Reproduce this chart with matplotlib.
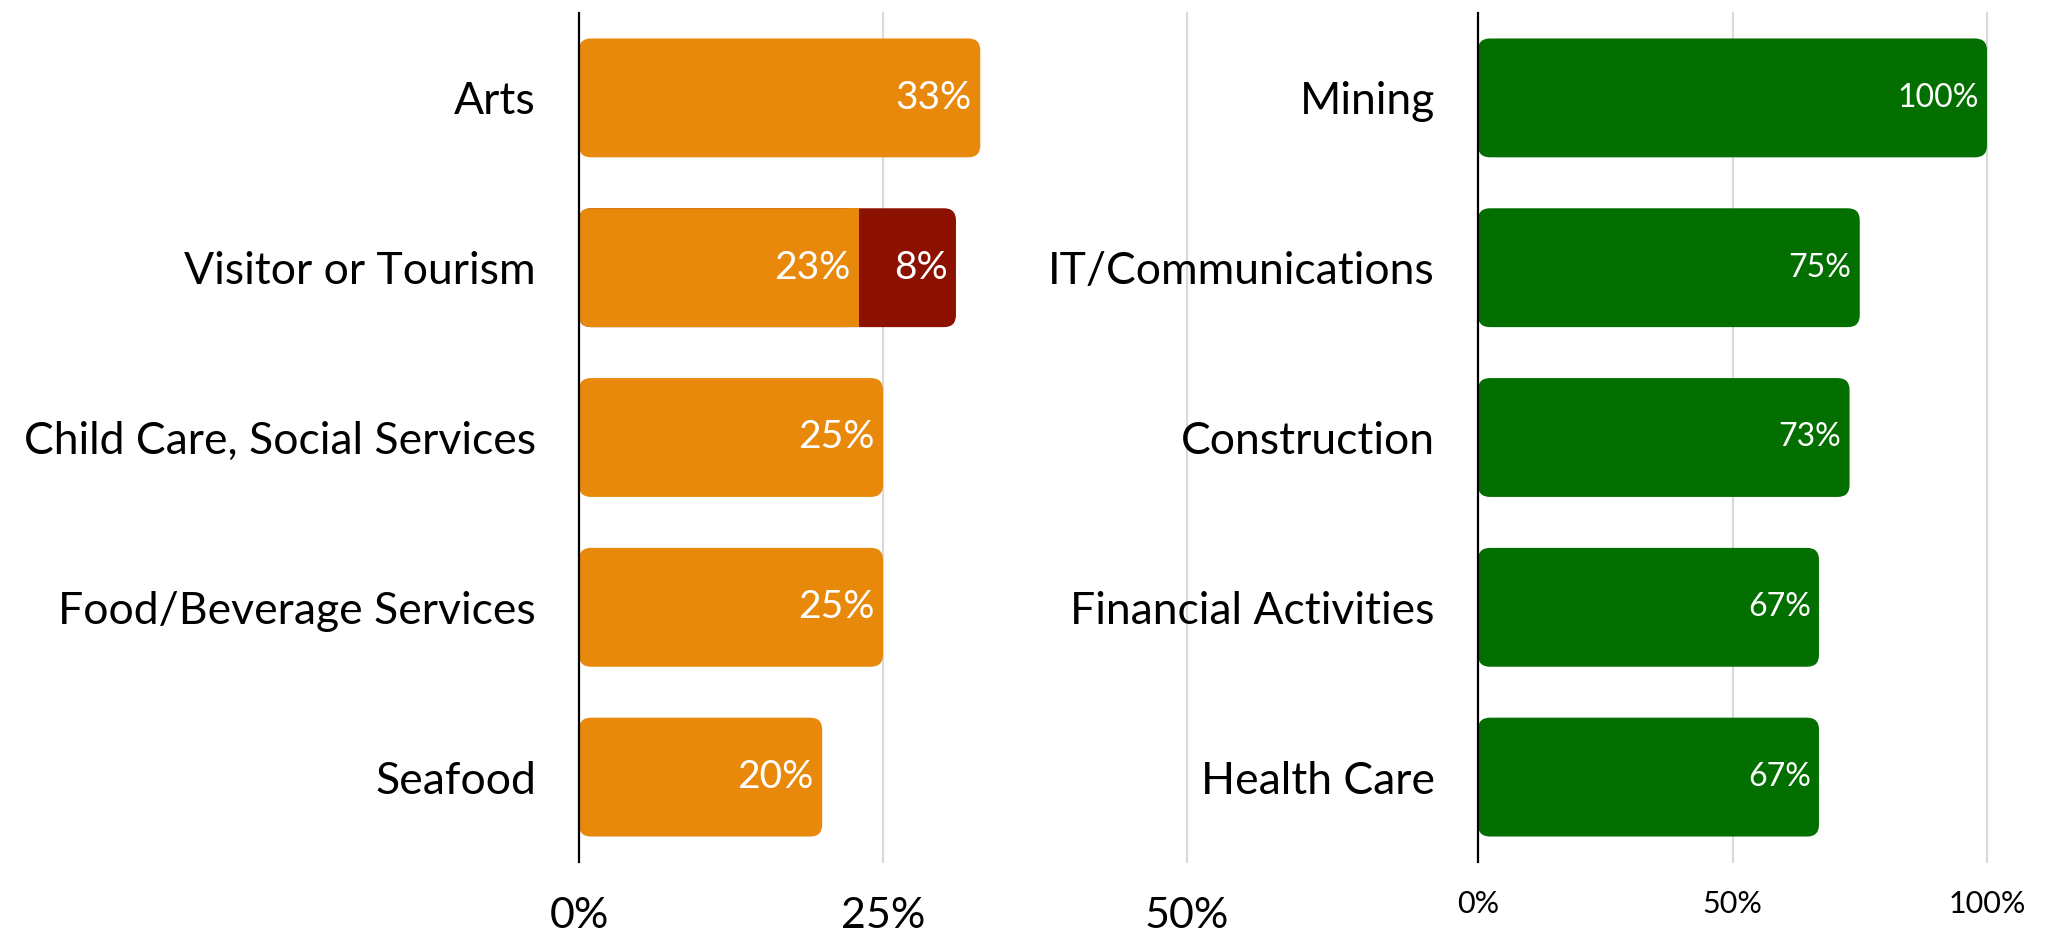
import matplotlib.pyplot as plt
from matplotlib.patches import FancyBboxPatch, Rectangle

plt.rcParams['font.family'] = ['Lato', 'DejaVu Sans']

# data
left_cats = ["Arts", "Visitor or Tourism", "Child Care, Social Services",
             "Food/Beverage Services", "Seafood"]
left_main = [33, 23, 25, 25, 20]
left_extra = [0, 8, 0, 0, 0]
left_ticks = [0, 25, 50]

right_cats = ["Mining", "IT/Communications", "Construction",
              "Financial Activities", "Health Care"]
right_vals = [100, 75, 73, 67, 67]
right_ticks = [0, 50, 100]

ORANGE = '#E8890B'
RED = '#8C1100'
GREEN = '#036F00'
GRID = '#D9D9D9'

W, H, DPI = 2049, 936, 100
fig = plt.figure(figsize=(W / DPI, H / DPI), dpi=DPI)

bot, top = 862, 13
axL = fig.add_axes([579 / W, 1 - bot / H, (1187 - 579) / W, (bot - top) / H])
axR = fig.add_axes([1478 / W, 1 - bot / H, (1987 - 1478) / W, (bot - top) / H])

BAR_H = 0.7
RADIUS_PX = 12


def setup(ax, cats, xmax, ticks, tick_fs, tick_pad):
    ax.set_xlim(0, xmax)
    ax.set_ylim(len(cats) - 0.5, -0.5)
    for s in ax.spines.values():
        s.set_visible(False)
    for t in ticks[1:]:
        ax.axvline(t, color=GRID, lw=1.5, zorder=0, clip_on=False)
    ax.axvline(0, color='black', lw=1.6, zorder=3, clip_on=False)
    ax.set_yticks(range(len(cats)))
    ax.set_yticklabels(cats, fontsize=32)
    ax.set_xticks(ticks)
    ax.set_xticklabels([f"{t}%" for t in ticks], fontsize=tick_fs)
    ax.tick_params(axis='y', length=0, pad=31)
    ax.tick_params(axis='x', length=0, pad=tick_pad)
    # pixel scale for round corners
    bb = ax.get_position()
    px_x = bb.width * W / xmax
    px_y = bb.height * H / len(cats)
    return px_x, px_y


def rbar(ax, x0, w, y, color, px_x, px_y):
    r = RADIUS_PX / px_x
    p = FancyBboxPatch((x0, y - BAR_H / 2), w, BAR_H,
                       boxstyle=f"round,pad=0,rounding_size={r}",
                       mutation_aspect=px_x / px_y,
                       fc=color, ec='none', zorder=2)
    ax.add_patch(p)
    return r


def label(ax, x, y, txt, fs):
    ax.annotate(txt, (x, y), xytext=(-6, 0), textcoords='offset points',
                ha='right', va='center', color='white', fontsize=fs, zorder=4)


# left panel
pxx, pxy = setup(axL, left_cats, 50, left_ticks, 31, 25)
for i, (m, e) in enumerate(zip(left_main, left_extra)):
    if e:
        rbar(axL, 0, m + e, i, RED, pxx, pxy)
        r = rbar(axL, 0, m, i, ORANGE, pxx, pxy)
        axL.add_patch(Rectangle((m - r, i - BAR_H / 2), r, BAR_H,
                                fc=ORANGE, ec='none', zorder=2))
        label(axL, m + e, i, f"{e}%", 28)
    else:
        rbar(axL, 0, m, i, ORANGE, pxx, pxy)
    label(axL, m, i, f"{m}%", 28)

# right panel
pxx, pxy = setup(axR, right_cats, 100, right_ticks, 22, 20)
for i, v in enumerate(right_vals):
    rbar(axR, 0, v, i, GREEN, pxx, pxy)
    label(axR, v, i, f"{v}%", 23)

fig.savefig('out.png', dpi=DPI)
